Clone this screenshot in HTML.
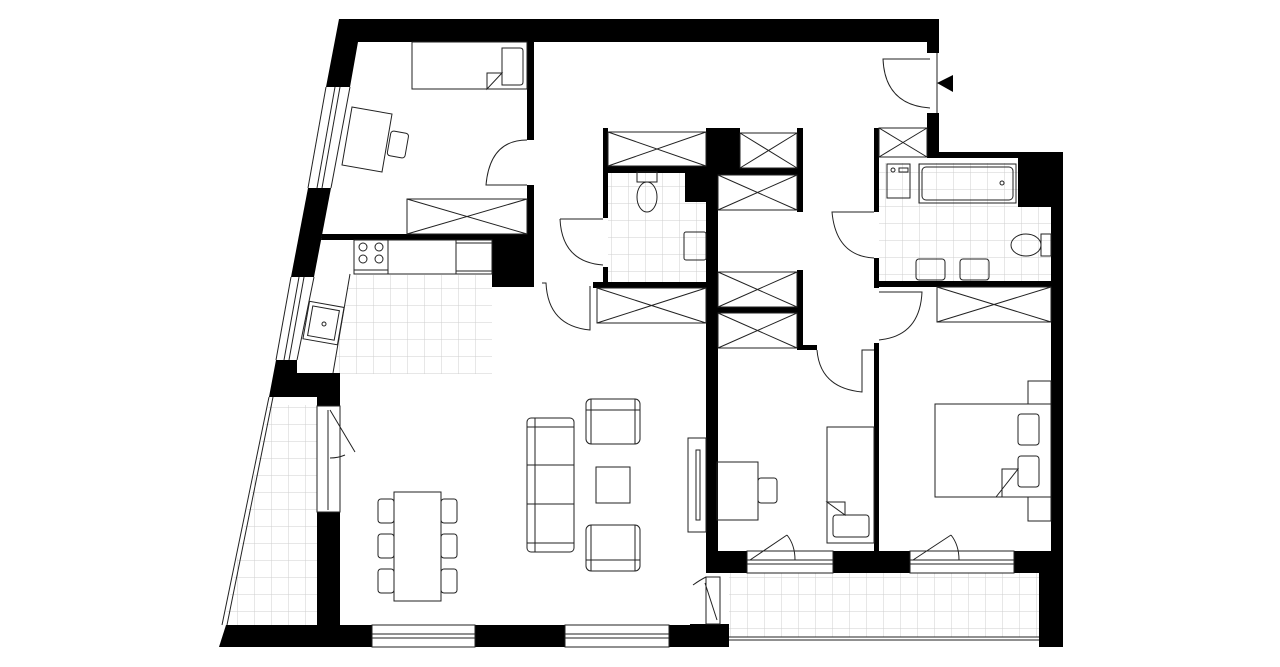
<!DOCTYPE html>
<html><head><meta charset="utf-8"><style>html,body{margin:0;padding:0;background:#fff;}svg{display:block}</style></head>
<body>
<svg width="1280" height="667" viewBox="0 0 1280 667" xmlns="http://www.w3.org/2000/svg">
<defs>
<pattern id="t" width="17" height="17" patternUnits="userSpaceOnUse">
<path d="M17 0V17M0 17H17" stroke="#cfcfcf" stroke-width="1" fill="none"/>
</pattern>
<pattern id="t2" width="17" height="17" patternUnits="userSpaceOnUse" x="2" y="3">
<path d="M17 0V17M0 17H17" stroke="#cfcfcf" stroke-width="1" fill="none"/>
</pattern>
</defs>
<!-- tile areas -->
<polygon points="350,275 492,275 492,374 333,374" fill="url(#t)"/>
<rect x="608" y="173" width="98" height="109" fill="url(#t)"/>
<rect x="879" y="163" width="172" height="118" fill="url(#t2)"/>
<polygon points="269,405 317,405 317,625 224,625" fill="url(#t)"/>
<rect x="729" y="573" width="310" height="64" fill="url(#t)"/>

<g fill="#000">
<!-- top wall -->
<polygon points="339,19 939,19 939,53 927,53 927,42 358,42 350,87 326,87"/>
<!-- left wall segments -->
<polygon points="308,188 331,188 314,277 291,277"/>
<polygon points="276,360 297,360 297,373 340,373 340,406 317,406 317,397 269,397"/>
<rect x="317" y="512" width="23" height="113"/>
<!-- bottom wall -->
<polygon points="226,625 340,625 340,625 372,625 372,647 219,647"/>
<rect x="475" y="625" width="90" height="22"/>
<rect x="669" y="625" width="60" height="22"/>
<rect x="690" y="624" width="39" height="23"/>
<!-- bedroom bottom wall -->
<polygon points="322,234 534,234 534,287 492,287 492,240 321,240"/>
<rect x="527" y="42" width="7" height="98"/>
<rect x="527" y="185" width="7" height="52"/>
<!-- WC -->
<rect x="603" y="128" width="5" height="90"/>
<rect x="603" y="267" width="5" height="16"/>
<rect x="593" y="282" width="113" height="6"/>
<rect x="603" y="166" width="103" height="7"/>
<rect x="685" y="166" width="21" height="36"/>
<!-- central wall -->
<rect x="706" y="128" width="12" height="445"/>
<rect x="706" y="128" width="34" height="42"/>
<rect x="718" y="168" width="83" height="7"/>
<rect x="797" y="128" width="6" height="84"/>
<rect x="797" y="270" width="6" height="80"/>
<rect x="797" y="345" width="20" height="5"/>
<rect x="718" y="307" width="83" height="6"/>
<!-- entry and bath2 -->
<rect x="927" y="113" width="12" height="45"/>
<polygon points="927,152 1063,152 1063,647 1039,647 1039,573 1014,573 1014,551 1051,551 1051,207 1018,207 1018,158 927,158"/>
<rect x="874" y="128" width="5" height="84"/>
<rect x="874" y="258" width="5" height="30"/>
<rect x="874" y="281" width="177" height="6"/>
<rect x="874" y="343" width="5" height="208"/>
<!-- bedrooms bottom -->
<rect x="706" y="551" width="41" height="22"/>
<rect x="833" y="551" width="77" height="22"/>
<!-- arrow -->
<polygon points="937,83 953,75 953,92"/>
</g>

<g fill="none" stroke="#222" stroke-width="1">
<!-- left windows -->
<line x1="326" y1="87" x2="308" y2="188"/><line x1="350" y1="87" x2="331" y2="188"/>
<line x1="335" y1="87" x2="317" y2="188"/><line x1="340" y1="87" x2="322" y2="188"/>
<line x1="291" y1="277" x2="276" y2="360"/><line x1="314" y1="277" x2="297" y2="360"/>
<line x1="299" y1="277" x2="284" y2="360"/><line x1="304" y1="277" x2="289" y2="360"/>
<!-- balcony left -->
<line x1="269" y1="397" x2="222" y2="625"/><line x1="273" y1="397" x2="227" y2="625"/>
<rect x="317" y="406" width="23" height="106"/><line x1="328" y1="410" x2="328" y2="510"/>
<path d="M330,410 L355,452 M345,455 Q338,458 330,458"/>
<!-- bottom windows -->
<rect x="372" y="625" width="103" height="22"/><line x1="372" y1="634" x2="475" y2="634"/><line x1="372" y1="638" x2="475" y2="638"/>
<rect x="565" y="625" width="104" height="22"/><line x1="565" y1="634" x2="669" y2="634"/><line x1="565" y1="638" x2="669" y2="638"/>
<rect x="747" y="551" width="86" height="22"/><line x1="747" y1="560" x2="833" y2="560"/><line x1="747" y1="564" x2="833" y2="564"/>
<rect x="910" y="551" width="104" height="22"/><line x1="910" y1="560" x2="1014" y2="560"/><line x1="910" y1="564" x2="1014" y2="564"/>
<path d="M750,560 L787,535 M787,535 Q795,545 795,560"/>
<path d="M913,560 L951,535 M951,535 Q959,545 959,560"/>
<line x1="729" y1="637" x2="1039" y2="637"/><line x1="729" y1="640" x2="1039" y2="640"/>
<!-- balcony door living -->
<rect x="706" y="577" width="14" height="47"/><path d="M705,583 L717,620 M693,585 Q700,580 706,577"/>
<!-- bedroom1 (top-left) -->
<rect x="412" y="42" width="115" height="47"/>
<path d="M502,48 h18 q3,0 3,3 v31 q0,3 -3,3 h-18 z"/>
<path d="M487,89 v-16 h15 z"/>
<polygon points="352,107 392,114 382,172 342,165"/>
<rect x="389" y="132" width="18" height="25" rx="3" transform="rotate(10 398 144)"/>
<rect x="407" y="199" width="120" height="35"/><path d="M407,199 L527,234 M527,199 L407,234"/>
<path d="M527,140 Q490,140 486,185 H527"/>
<!-- kitchen -->
<rect x="354" y="240" width="34" height="34"/>
<circle cx="363" cy="247" r="4"/><circle cx="379" cy="247" r="4"/><circle cx="363" cy="259" r="4"/><circle cx="379" cy="259" r="4"/>
<line x1="354" y1="270" x2="388" y2="270"/>
<rect x="388" y="240" width="68" height="34"/>
<rect x="456" y="240" width="36" height="34"/><line x1="456" y1="243" x2="492" y2="243"/><line x1="456" y1="271" x2="492" y2="271"/>
<line x1="350" y1="274" x2="333" y2="373"/>
<rect x="306" y="304" width="35" height="38" transform="rotate(10 323 323)"/>
<rect x="310" y="308" width="27" height="30" transform="rotate(10 323 323)"/>
<circle cx="324" cy="324" r="2"/>
<!-- WC -->
<path d="M560,219 H603 M560,219 Q562,262 603,265"/>
<path d="M542,283 H546 Q548,326 590,330 V286"/>
<rect x="608" y="132" width="98" height="34"/><path d="M608,132 L706,166 M706,132 L608,166"/>
<rect x="637" y="172" width="20" height="10"/><ellipse cx="647" cy="197" rx="10" ry="15"/>
<rect x="684" y="232" width="22" height="28" rx="2"/>
<rect x="597" y="288" width="109" height="35"/><path d="M597,288 L706,323 M706,288 L597,323"/>
<!-- middle closets -->
<rect x="740" y="133" width="57" height="35"/><path d="M740,133 L797,168 M797,133 L740,168"/>
<rect x="718" y="175" width="79" height="35"/><path d="M718,175 L797,210 M797,175 L718,210"/>
<rect x="718" y="272" width="79" height="35"/><path d="M718,272 L797,307 M797,272 L718,307"/>
<rect x="718" y="313" width="79" height="35"/><path d="M718,313 L797,348 M797,313 L718,348"/>
<!-- living -->
<rect x="688" y="438" width="18" height="94"/><rect x="696" y="450" width="4" height="70"/>
<rect x="394" y="492" width="47" height="109"/>
<rect x="378" y="499" width="16" height="24" rx="3"/><rect x="378" y="534" width="16" height="24" rx="3"/><rect x="378" y="569" width="16" height="24" rx="3"/>
<rect x="441" y="499" width="16" height="24" rx="3"/><rect x="441" y="534" width="16" height="24" rx="3"/><rect x="441" y="569" width="16" height="24" rx="3"/>
<rect x="527" y="418" width="47" height="134" rx="4"/><line x1="527" y1="465" x2="574" y2="465"/><line x1="527" y1="504" x2="574" y2="504"/>
<line x1="527" y1="427" x2="574" y2="427"/><line x1="527" y1="543" x2="574" y2="543"/><line x1="535" y1="418" x2="535" y2="552"/>
<rect x="586" y="399" width="54" height="45" rx="5"/><line x1="591" y1="399" x2="591" y2="444"/><line x1="635" y1="399" x2="635" y2="444"/><line x1="586" y1="410" x2="640" y2="410"/>
<rect x="586" y="525" width="54" height="46" rx="5"/><line x1="591" y1="525" x2="591" y2="571"/><line x1="635" y1="525" x2="635" y2="571"/><line x1="586" y1="560" x2="640" y2="560"/>
<rect x="596" y="467" width="34" height="36"/>
<!-- bedroom1 lower -->
<path d="M817,350 Q820,388 862,392 V350 H874"/>
<rect x="717" y="462" width="41" height="58"/><rect x="758" y="478" width="19" height="25" rx="3"/>
<rect x="827" y="427" width="47" height="116"/>
<rect x="833" y="515" width="36" height="22" rx="3"/><path d="M827,502 H845 V515 Z"/>
<!-- bedroom2 -->
<rect x="937" y="287" width="114" height="35"/><path d="M937,287 L1051,322 M1051,287 L937,322"/>
<path d="M879,292 H922 Q920,336 879,340"/>
<rect x="935" y="404" width="116" height="93"/>
<rect x="1028" y="381" width="23" height="23"/><rect x="1028" y="497" width="23" height="24"/>
<rect x="1018" y="414" width="21" height="31" rx="3"/><rect x="1018" y="456" width="21" height="31" rx="3"/>
<path d="M996,497 L1018,469 H1002 V497"/>
<!-- bath2 -->
<rect x="879" y="128" width="48" height="29"/><path d="M879,128 L927,157 M927,128 L879,157"/>
<path d="M874,212 H832 Q836,256 874,258"/>
<rect x="887" y="164" width="23" height="34"/><circle cx="893" cy="170" r="2"/><rect x="899" y="168" width="9" height="4"/>
<rect x="919" y="164" width="97" height="39"/><rect x="922" y="167" width="91" height="33" rx="4"/><circle cx="1002" cy="183" r="2"/>
<rect x="1041" y="234" width="10" height="22"/><ellipse cx="1026" cy="245" rx="15" ry="11"/>
<rect x="916" y="259" width="29" height="21" rx="3"/><rect x="960" y="259" width="29" height="21" rx="3"/>
<!-- entry door -->
<line x1="937" y1="53" x2="937" y2="113"/>
<path d="M930,59 H883 Q885,105 930,108"/>
<line x1="527" y1="140" x2="527" y2="185" stroke-width="0"/>
</g>
</svg>
</body></html>
